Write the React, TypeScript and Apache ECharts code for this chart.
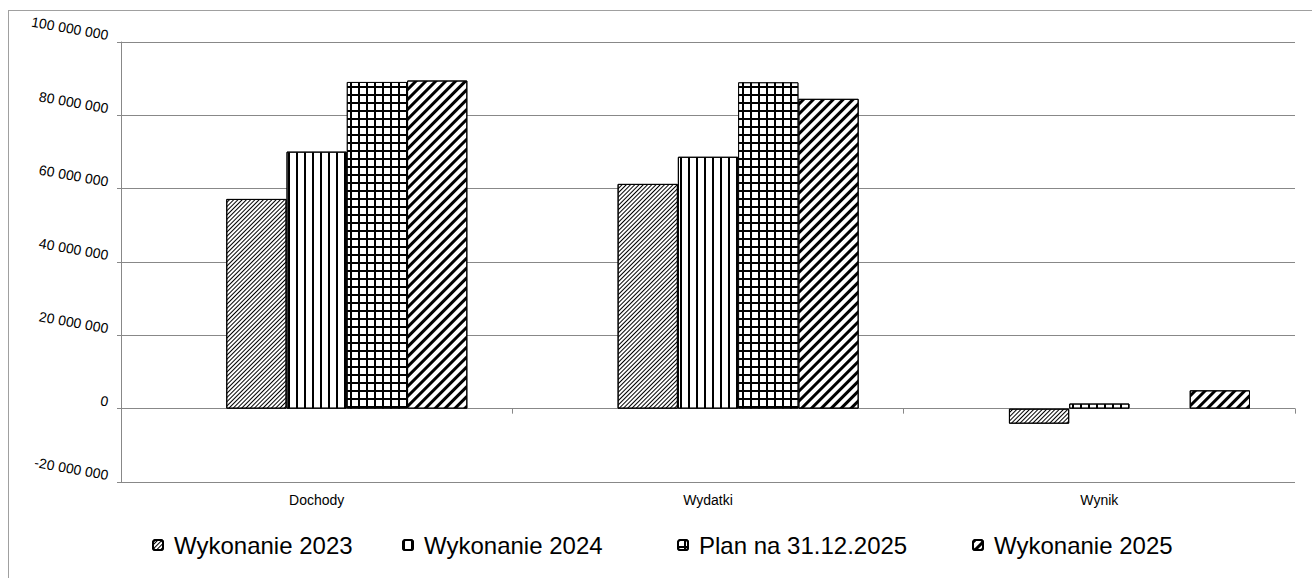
import React, { useEffect, useRef } from "react";
import * as echarts from "echarts";

const categories = ["Dochody", "Wydatki", "Wynik"];
const seriesNames = ["Wykonanie 2023", "Wykonanie 2024", "Plan na 31.12.2025", "Wykonanie 2025"];
const emptySlot: (number | null)[] = [null, null, null];
const wykonanie2023 = [57200000, 61300000, -4100000];
const wykonanie2024 = [70100000, 68700000, 1400000];
const plan2025: (number | null)[] = [89100000, 89000000, null];
const wykonanie2025 = [89500000, 84500000, 5000000];
const yTicks = { min: -20000000, max: 100000000, interval: 20000000 };
const legendLeft = [152, 402, 677, 972];

const fmt = (v: number) => {
  const s = Math.abs(v).toString().replace(/\B(?=(\d{3})+(?!\d))/g, " ");
  return (v < 0 ? "-" : "") + s;
};

export default function App() {
  const ref = useRef<HTMLDivElement>(null);
  useEffect(() => {
    document.body.style.margin = "0";
    const chart = echarts.init(ref.current!, null, { renderer: "svg" });
    const border = { borderColor: "#000", borderWidth: 1 };
    const styles: any[] = [
      {
        color: "#fff",
        ...border,
        decal: { symbol: "rect", symbolSize: 1, color: "#000", dashArrayX: [1, 0], dashArrayY: [1, 2], rotation: -Math.PI / 4 },
      },
      {
        color: "#fff",
        ...border,
        decal: { symbol: "rect", symbolSize: 1, color: "#000", dashArrayX: [2, 6], dashArrayY: [1, 0], rotation: 0 },
      },
      {
        color: "#000",
        ...border,
        decal: { symbol: "rect", symbolSize: 1, color: "#fff", dashArrayX: [6, 2], dashArrayY: [6, 2], rotation: 0 },
      },
      {
        color: "#fff",
        ...border,
        decal: { symbol: "rect", symbolSize: 1, color: "#000", dashArrayX: [1, 0], dashArrayY: [3, 4], rotation: -Math.PI / 4 },
      },
    ];
    const data = [wykonanie2023, wykonanie2024, plan2025, wykonanie2025];
    const series: any[] = [
      {
        name: "_empty",
        type: "bar",
        xAxisIndex: 0,
        data: emptySlot,
        barGap: "0%",
        barCategoryGap: "23%",
        silent: true,
      },
      ...seriesNames.map((n, i) => ({
        name: n,
        type: "bar",
        xAxisIndex: 0,
        data: data[i],
        barGap: "0%",
        barCategoryGap: "23%",
        itemStyle: styles[i],
      })),
    ];
    chart.setOption({
      animation: false,
      textStyle: { fontFamily: "Liberation Sans, Arial, sans-serif" },
      grid: { left: 121, right: 17, top: 42, bottom: 96 },
      legend: seriesNames.map((n, i) => ({
        left: legendLeft[i],
        top: 533,
        itemWidth: 10,
        itemHeight: 10,
        padding: 0,
        textStyle: { fontSize: 24, color: "#000", padding: [0, 0, 0, 6] },
        data: [n],
        selectedMode: false,
      })),
      xAxis: [
        {
          type: "category",
          data: categories,
          axisLine: { onZero: true, lineStyle: { color: "#888", width: 1 } },
          axisTick: { show: true, length: 5, lineStyle: { color: "#888" } },
          axisLabel: { show: false },
        },
        {
          type: "category",
          data: categories,
          position: "bottom",
          axisLine: { show: false, onZero: false },
          axisTick: { show: false },
          axisLabel: { fontSize: 14, color: "#000", margin: 11 },
        },
      ],
      yAxis: {
        type: "value",
        min: yTicks.min,
        max: yTicks.max,
        interval: yTicks.interval,
        axisLine: { show: true, lineStyle: { color: "#888" } },
        axisTick: { show: true, length: 4, lineStyle: { color: "#888" } },
        splitLine: { lineStyle: { color: "#888", width: 1 } },
        axisLabel: { fontSize: 14, color: "#000", rotate: -10, margin: 14, verticalAlign: "bottom", formatter: fmt },
      },
      series,
      graphic: [
        { type: "line", shape: { x1: 8.5, y1: 10, x2: 8.5, y2: 578 }, style: { stroke: "#a0a0a0", lineWidth: 1 } },
        { type: "line", shape: { x1: 8, y1: 10.5, x2: 1312, y2: 10.5 }, style: { stroke: "#a0a0a0", lineWidth: 1 } },
      ],
    });
    return () => chart.dispose();
  }, []);
  return <div ref={ref} style={{ width: 1312, height: 578 }} />;
}
